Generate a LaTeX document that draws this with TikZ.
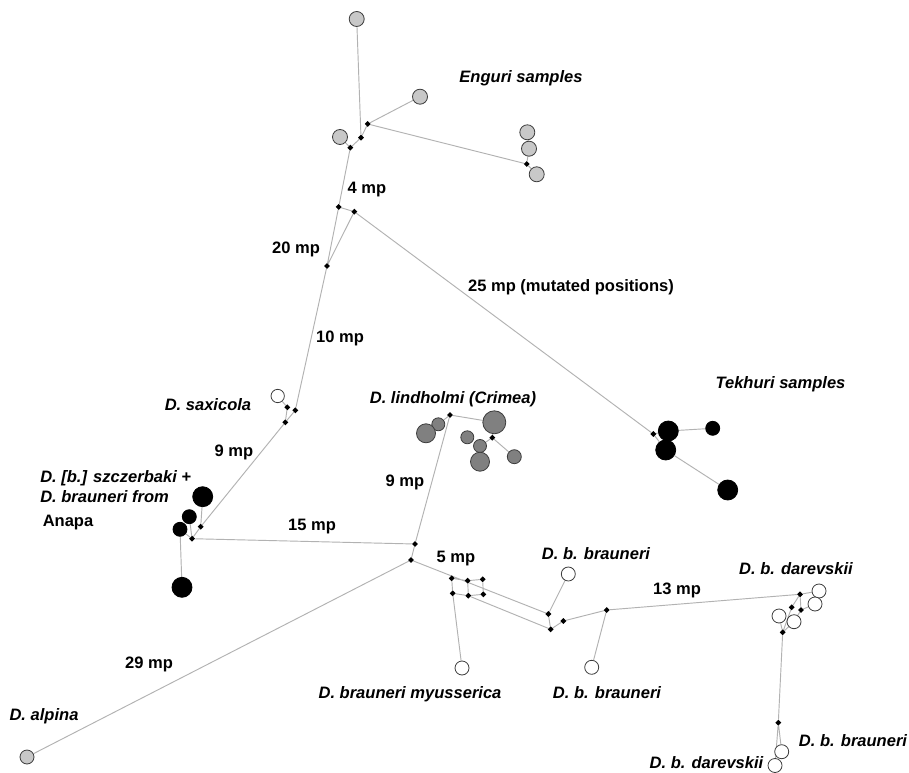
\documentclass[tikz,border=0pt]{standalone}
\usepackage{fontspec}
\setmainfont{Liberation Sans}
\usetikzlibrary{shapes.geometric,backgrounds}
\definecolor{lgrey}{RGB}{200,200,200}
\definecolor{dgrey}{RGB}{128,128,128}
\definecolor{edgec}{RGB}{178,178,178}
\definecolor{ring}{RGB}{60,60,60}
\tikzset{
  jn/.style={shape=diamond,fill=black,inner sep=0pt,minimum size=4.6pt},
  hap/.style={circle,draw=ring,line width=0.6pt,inner sep=0pt,minimum size=#1},
  lg/.style={hap=#1,fill=lgrey},
  dg/.style={hap=#1,fill=dgrey},
  bk/.style={hap=#1,fill=black,draw=black},
  wh/.style={hap=#1,fill=white},
  ln/.style={draw=edgec,line width=0.7pt},
  sp/.style={font=\fontsize{12.4}{14}\selectfont\bfseries\itshape,inner sep=0pt},
  mp/.style={font=\fontsize{12.4}{14}\selectfont\bfseries,inner sep=0pt},
}
\begin{document}
\begin{tikzpicture}[x=0.75pt,y=-0.75pt]
\useasboundingbox (0,0) rectangle (909,773);
% Enguri
\node[lg=11.25pt] (e1) at (356.7,19) {};
\node[lg=11.25pt] (e2) at (420,96.7) {};
\node[lg=11.25pt] (e3) at (340,137) {};
\node[lg=11.25pt] (e4) at (527.3,132.3) {};
\node[lg=11.25pt] (e5) at (529,148.7) {};
\node[lg=11.25pt] (e6) at (536.7,174.3) {};
\node[jn] (j1) at (367.7,124) {};
\node[jn] (j2) at (361,137.7) {};
\node[jn] (j3) at (350.3,147.7) {};
\node[jn] (j4) at (526.7,164) {};
\node[jn] (j5) at (338.7,207) {};
\node[jn] (j6) at (354.3,211.7) {};
\node[jn] (j7) at (327,266) {};
% Tekhuri
\node[jn] (t0) at (653.3,434) {};
\node[bk=15pt] (t1) at (668.3,431) {};
\node[bk=15pt] (t2) at (665.7,450) {};
\node[bk=10.5pt] (t3) at (712.7,428.3) {};
\node[bk=15pt] (t4) at (727.7,490) {};
% saxicola
\node[wh=10pt] (s0) at (277.7,396) {};
\node[jn] (k1) at (287.3,407.3) {};
\node[jn] (k2) at (295.3,410.3) {};
\node[jn] (k3) at (285.3,422.3) {};
% szczerbaki
\node[bk=15pt] (b1) at (202.7,496.7) {};
\node[bk=10.5pt] (b2) at (189.3,516.7) {};
\node[bk=10.5pt] (b3) at (180,529.3) {};
\node[bk=15pt] (b4) at (182,587.3) {};
\node[jn] (m1) at (200.7,526.7) {};
\node[jn] (m2) at (192,538.7) {};
% lindholmi
\node[jn] (l0) at (450,415) {};
\node[jn] (l1) at (492.3,437.7) {};
\node[dg=9.75pt] (L1) at (438.3,424.3) {};
\node[dg=14.25pt] (L2) at (426,433.3) {};
\node[dg=17.25pt] (L3) at (494.3,422.3) {};
\node[dg=9.75pt] (L4) at (467.3,437.3) {};
\node[dg=9.75pt] (L5) at (480,446) {};
\node[dg=14.25pt] (L6) at (480,461.7) {};
\node[dg=10.5pt] (L7) at (514.3,456.7) {};
% centre
\node[jn] (A) at (415,544) {};
\node[jn] (B) at (411,560) {};
\node[lg=10.5pt] (al) at (27,757) {};
\node[jn] (g1) at (451.7,578.3) {};
\node[jn] (g2) at (467.7,580.7) {};
\node[jn] (g3) at (482.7,579.3) {};
\node[jn] (g4) at (452.7,593.3) {};
\node[jn] (g5) at (468.3,595.7) {};
\node[jn] (g6) at (483.3,594.3) {};
\node[wh=10.5pt] (my) at (462,668) {};
\node[jn] (C1) at (548.3,614) {};
\node[jn] (C2) at (550.7,629.3) {};
\node[jn] (C3) at (563.3,621) {};
\node[jn] (C4) at (606.7,610) {};
\node[wh=10.5pt] (w1) at (568.3,574) {};
\node[wh=10.5pt] (w2) at (591.7,667.3) {};
% darevskii
\node[jn] (D1) at (800,594.3) {};
\node[jn] (D2) at (791.7,607.3) {};
\node[jn] (D3) at (801,610) {};
\node[jn] (D4) at (782.7,632.3) {};
\node[jn] (D5) at (778.3,722.7) {};
\node[wh=10.5pt] (v1) at (819,591) {};
\node[wh=10.5pt] (v2) at (815,604) {};
\node[wh=10.5pt] (v3) at (779,616) {};
\node[wh=10.5pt] (v4) at (794,621.7) {};
\node[wh=10.5pt] (v5) at (781.7,751.7) {};
\node[wh=10.5pt] (v6) at (775,765.5) {};
% edges
\begin{scope}[on background layer]
\fill[white] (0,0) rectangle (909,773);
\draw[ln] (e1)--(j2) (j2)--(j1) (j1)--(e2) (j1)--(j4) (j4)--(e5) (j4)--(e6) (e4)--(e5)
  (j2)--(j3) (j3)--(e3) (j3)--(j5) (j5)--(j6) (j5)--(j7) (j6)--(j7) (j6)--(t0)
  (t0)--(t1) (t0)--(t2) (t1)--(t3) (t2)--(t4)
  (j7)--(k2) (s0)--(k1) (k1)--(k3) (k2)--(k3) (k3)--(m1)
  (b1)--(m1) (m1)--(m2) (b2)--(m2) (b3)--(m2) (b3)--(b4) (m2)--(A)
  (l0)--(L1) (L1)--(L2) (l0)--(L3) (L3)--(l1) (l1)--(L7) (l1)--(L5) (L5)--(L6) (l0)--(A)
  (A)--(B) (B)--(al) (B)--(C1)
  (g1)--(g2) (g2)--(g3) (g4)--(g5) (g5)--(g6) (g1)--(g4) (g2)--(g5) (g3)--(g6) (g4)--(my)
  (g5)--(C2)
  (C1)--(w1) (C1)--(C2) (C2)--(C3) (C3)--(C4) (C4)--(w2) (C4)--(D1)
  (D1)--(D2) (D1)--(D3) (D1)--(v1) (D3)--(v2) (D3)--(v4) (D2)--(D4) (D4)--(v3) (D4)--(v4)
  (D4)--(D5) (D5)--(v5) (D5)--(v6);
\end{scope}
% labels
\begin{scope}[yshift=-1.6pt]
\node[sp] (tEn) at (521,76) {Enguri samples};
\node[mp] (t4mp) at (367,187) {4 mp};
\node[mp] (t20) at (296,247) {20 mp};
\node[mp] (t25) at (571,285) {25 mp (mutated positions)};
\node[mp] (t10) at (340,336) {10 mp};
\node[sp] (tTe) at (780.5,382) {Tekhuri samples};
\node[sp] (tSa) at (208,402) {D. saxicola};
\node[sp] (tLi) at (453,397) {D. lindholmi (Crimea)};
\node[mp] (t9a) at (234,450) {9 mp};
\node[sp,anchor=west] (tSz1) at (40,476) {D. [b.] szczerbaki +};
\node[sp,anchor=west] (tSz2) at (40,494) {D. brauneri from};
\node[mp,anchor=west] (tSz3) at (42.5,520) {Anapa};
\node[mp] (t9b) at (405,480) {9 mp};
\node[mp] (t15) at (312,524) {15 mp};
\node[mp] (t5) at (456,556) {5 mp};
\node[sp] (tBb1) at (596,551) {D. b. brauneri};
\node[mp] (t13) at (677,588) {13 mp};
\node[sp] (tDa1) at (796,566) {D. b. darevskii};
\node[mp] (t29) at (149,662) {29 mp};
\node[sp] (tMy) at (410,692) {D. brauneri myusserica};
\node[sp] (tBb2) at (607,690) {D. b. brauneri};
\node[sp] (tAl) at (44,714) {D. alpina};
\node[sp] (tBb3) at (853,738) {D. b. brauneri};
\node[sp] (tDa2) at (706.5,760.5) {D. b. darevskii};
\end{scope}
\end{tikzpicture}
\end{document}
